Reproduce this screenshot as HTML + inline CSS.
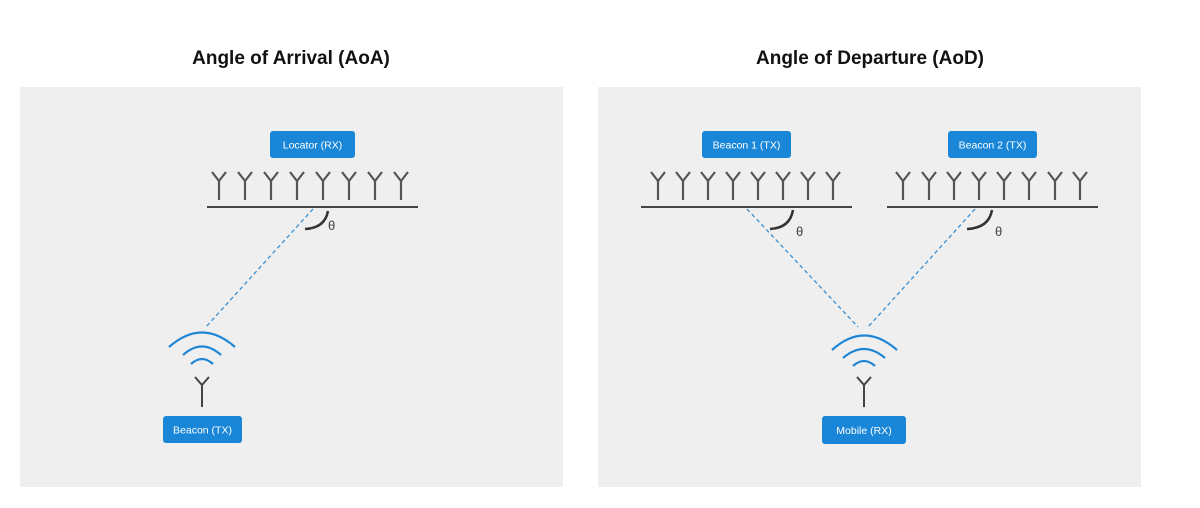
<!DOCTYPE html>
<html><head><meta charset="utf-8"><style>
body{margin:0;background:#fff;}
svg{display:block;font-family:"Liberation Sans",sans-serif;}
</style></head><body>
<svg width="1200" height="508" viewBox="0 0 1200 508">
<text x="291" y="64" text-anchor="middle" font-size="19" font-weight="bold" fill="#111">Angle of Arrival (AoA)</text>
<text x="870" y="64" text-anchor="middle" font-size="19" font-weight="bold" fill="#111">Angle of Departure (AoD)</text>
<rect x="20" y="87" width="543" height="400" fill="#efefef"/>
<rect x="598" y="87" width="543" height="400" fill="#efefef"/>
<g id="ants" stroke="#555" stroke-width="2.2" fill="none"></g>
<g stroke="#444" stroke-width="2" fill="none">
<line x1="207" y1="207" x2="418" y2="207"/>
<line x1="641" y1="207" x2="852" y2="207"/>
<line x1="887" y1="207" x2="1098" y2="207"/>
</g>
<g stroke="#333" stroke-width="2.5" fill="none">
<path d="M328,211 Q325,228 305,229"/>
<path d="M793,210 Q790,228 770,229"/>
<path d="M992,210 Q989,228 967,229"/>
</g>
<g font-size="13" fill="#444">
<text x="328" y="230">θ</text>
<text x="796" y="236">θ</text>
<text x="995" y="236">θ</text>
</g>
<g stroke="#3a8fd0" stroke-width="1.3" stroke-dasharray="4,3" fill="none">
<line x1="313" y1="209" x2="205" y2="328"/>
<line x1="747" y1="209" x2="858" y2="327"/>
<line x1="975" y1="209" x2="868" y2="327"/>
</g>
<g stroke="#1f86d6" stroke-width="2.2" fill="none">
<path d="M169,347 Q202,318 235,347"/><path d="M183,355 Q202,338 221,355"/><path d="M191,364 Q202,354 213,364"/>
</g>
<g stroke="#1f86d6" stroke-width="2.2" fill="none">
<path d="M832,350 Q864,321 897,350"/><path d="M843,358 Q864,340 885,358"/><path d="M853,366 Q864,356 875,366"/>
</g>
<g stroke="#444" stroke-width="2" fill="none">
<path d="M202,407 V384 M195,377 L202,385 L209,377"/>
<path d="M864,407 V384 M857,377 L864,385 L871,377"/>
</g>
<g font-size="10.5" fill="#fff" text-anchor="middle">
<rect x="270" y="131" width="85" height="27" rx="3" fill="#1a86d8"/>
<text x="312.5" y="148.5">Locator (RX)</text>
<rect x="702" y="131" width="89" height="27" rx="3" fill="#1a86d8"/>
<text x="746.5" y="148.5">Beacon 1 (TX)</text>
<rect x="948" y="131" width="89" height="27" rx="3" fill="#1a86d8"/>
<text x="992.5" y="148.5">Beacon 2 (TX)</text>
<rect x="163" y="416" width="79" height="27" rx="3" fill="#1a86d8"/>
<text x="202.5" y="433.5">Beacon (TX)</text>
<rect x="822" y="416" width="84" height="28" rx="3" fill="#1a86d8"/>
<text x="864" y="434">Mobile (RX)</text>
</g>
</svg>
<script>
const arrayA=[219,245,271,297,323,349,375,401];
const arrayB=[658,683,708,733,758,783,808,833];
const arrayC=[903,929,954,979,1004,1029,1055,1080];
const g=document.getElementById('ants');
[arrayA,arrayB,arrayC].forEach(function(arr,ai){
  arr.forEach(function(x,i){
    const p=document.createElementNS('http://www.w3.org/2000/svg','path');
    p.setAttribute('d','M'+x+',200 V181 M'+(x-7)+',172 L'+x+',181 L'+(x+7)+',172');
    
    
    g.appendChild(p);
  });
});
</script>
</body></html>
